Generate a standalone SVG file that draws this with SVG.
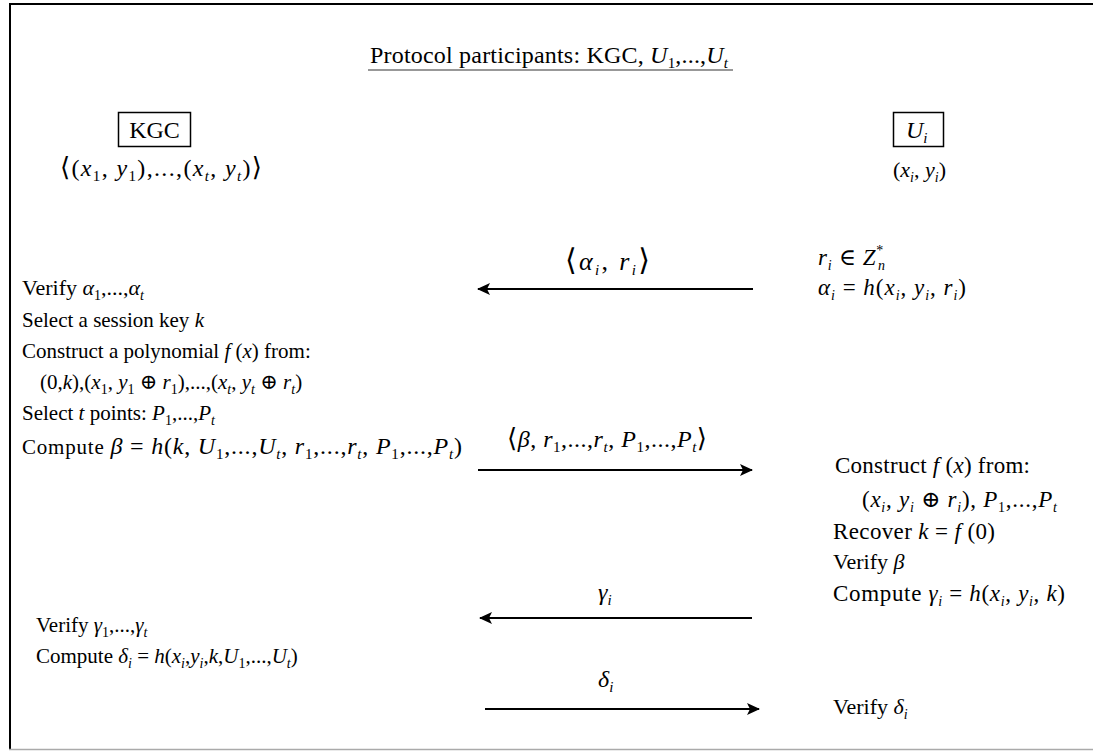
<svg xmlns="http://www.w3.org/2000/svg" width="1094" height="751" viewBox="0 0 1094 751">
<style>
text{font-family:"Liberation Serif","DejaVu Serif",serif;font-size:21px;fill:#000}
.i{font-style:italic}
.s{font-size:14px}
.s2{font-size:15px}
.b{font-size:26px}
.bb{font-size:30px}
.m{font-size:22px}
.r{font-size:23px}
.mm{font-size:24px}
.lb{font-size:26px}
.ttl{font-size:24px}
.big{font-size:24px}
.ln{stroke:#000;stroke-width:2;fill:none}
</style>
<defs>
<marker id="ah" viewBox="0 0 13 12" refX="12" refY="6" markerWidth="13" markerHeight="12" markerUnits="userSpaceOnUse" orient="auto">
<path d="M0,0 L13,6 L0,12 L3,6 z" fill="#000"/>
</marker>
</defs>
<rect width="1094" height="751" fill="#fff"/>
<g id="frame">
<line x1="9" y1="4" x2="1093" y2="4" stroke="#000" stroke-width="2"/>
<line x1="10" y1="3" x2="10" y2="750" stroke="#000" stroke-width="2"/>
<line x1="9" y1="749.5" x2="1093" y2="749.5" stroke="#aaa" stroke-width="1.5"/>
</g>
<g id="title">
<text class="ttl" x="370" y="63" textLength="358" lengthAdjust="spacing">Protocol participants: KGC, <tspan class="i">U</tspan><tspan class="s2" dy="5">1</tspan><tspan dy="-5">,...,</tspan><tspan class="i">U</tspan><tspan class="s2 i" dy="5">t</tspan></text>
<line x1="368" y1="70" x2="733" y2="70" stroke="#333" stroke-width="1.2"/>
</g>
<g id="kgc">
<rect x="118.5" y="112.5" width="72" height="34" fill="none" stroke="#000" stroke-width="1.5"/>
<text class="big" x="154.5" y="138" text-anchor="middle">KGC</text>
<text class="mm" x="60" y="176" textLength="202" lengthAdjust="spacing"><tspan class="b">⟨</tspan>(<tspan class="i">x</tspan><tspan class="s2" dy="5">1</tspan><tspan dy="-5">, </tspan><tspan class="i">y</tspan><tspan class="s2" dy="5">1</tspan><tspan dy="-5">),...,(</tspan><tspan class="i">x</tspan><tspan class="s2 i" dy="5">t</tspan><tspan dy="-5">, </tspan><tspan class="i">y</tspan><tspan class="s2 i" dy="5">t</tspan><tspan dy="-5">)</tspan><tspan class="b">⟩</tspan></text>
</g>
<g id="user">
<rect x="893.5" y="112.5" width="50" height="34" fill="none" stroke="#000" stroke-width="1.5"/>
<text class="big" x="906" y="138"><tspan class="i">U</tspan><tspan class="s2 i" dy="5">i</tspan></text>
<text class="m" x="893" y="177" textLength="53" lengthAdjust="spacing">(<tspan class="i">x</tspan><tspan class="s i" dy="5">i</tspan><tspan dy="-5">, </tspan><tspan class="i">y</tspan><tspan class="s i" dy="5">i</tspan><tspan dy="-5">)</tspan></text>
</g>
<g id="kgc-steps">
<text class="m" x="22" y="295">Verify <tspan class="i">α</tspan><tspan class="s" dy="5">1</tspan><tspan dy="-5">,...,</tspan><tspan class="i">α</tspan><tspan class="s i" dy="5">t</tspan></text>
<text x="22" y="327">Select a session key <tspan class="i">k</tspan></text>
<text x="22" y="358">Construct a polynomial <tspan class="i">f</tspan> (<tspan class="i">x</tspan>) from:</text>
<text x="40" y="389">(0,<tspan class="i">k</tspan>),(<tspan class="i">x</tspan><tspan class="s" dy="5">1</tspan><tspan dy="-5">, </tspan><tspan class="i">y</tspan><tspan class="s" dy="5">1</tspan><tspan dy="-5"> ⊕ </tspan><tspan class="i">r</tspan><tspan class="s" dy="5">1</tspan><tspan dy="-5">),...,(</tspan><tspan class="i">x</tspan><tspan class="s i" dy="5">t</tspan><tspan dy="-5">, </tspan><tspan class="i">y</tspan><tspan class="s i" dy="5">t</tspan><tspan dy="-5"> ⊕ </tspan><tspan class="i">r</tspan><tspan class="s i" dy="5">t</tspan><tspan dy="-5">)</tspan></text>
<text x="22" y="420">Select <tspan class="i">t</tspan> points: <tspan class="i">P</tspan><tspan class="s" dy="5">1</tspan><tspan dy="-5">,...,</tspan><tspan class="i">P</tspan><tspan class="s i" dy="5">t</tspan></text>
<text x="22" y="454" textLength="440" lengthAdjust="spacing">Compute <tspan class="mm i">β</tspan><tspan class="mm"> = </tspan><tspan class="mm i">h</tspan><tspan class="mm">(</tspan><tspan class="mm i">k</tspan><tspan class="mm">, </tspan><tspan class="mm i">U</tspan><tspan class="s2" dy="5">1</tspan><tspan class="mm" dy="-5">,...,</tspan><tspan class="mm i">U</tspan><tspan class="s2 i" dy="5">t</tspan><tspan class="mm" dy="-5">, </tspan><tspan class="mm i">r</tspan><tspan class="s2" dy="5">1</tspan><tspan class="mm" dy="-5">,...,</tspan><tspan class="mm i">r</tspan><tspan class="s2 i" dy="5">t</tspan><tspan class="mm" dy="-5">, </tspan><tspan class="mm i">P</tspan><tspan class="s2" dy="5">1</tspan><tspan class="mm" dy="-5">,...,</tspan><tspan class="mm i">P</tspan><tspan class="s2 i" dy="5">t</tspan><tspan class="mm" dy="-5">)</tspan></text>
<text x="36" y="632">Verify <tspan class="i">γ</tspan><tspan class="s" dy="5">1</tspan><tspan dy="-5">,...,</tspan><tspan class="i">γ</tspan><tspan class="s i" dy="5">t</tspan></text>
<text x="36" y="663">Compute <tspan class="i">δ</tspan><tspan class="s i" dy="5">i</tspan><tspan dy="-5"> = </tspan><tspan class="i">h</tspan>(<tspan class="i">x</tspan><tspan class="s i" dy="5">i</tspan><tspan dy="-5">,</tspan><tspan class="i">y</tspan><tspan class="s i" dy="5">i</tspan><tspan dy="-5">,</tspan><tspan class="i">k</tspan>,<tspan class="i">U</tspan><tspan class="s" dy="5">1</tspan><tspan dy="-5">,...,</tspan><tspan class="i">U</tspan><tspan class="s i" dy="5">t</tspan><tspan dy="-5">)</tspan></text>
</g>
<g id="user-steps">
<text class="r" x="818" y="265" textLength="67" lengthAdjust="spacing"><tspan class="i">r</tspan><tspan class="s i" dy="5">i</tspan><tspan dy="-5"> ∈ </tspan><tspan class="i">Z</tspan><tspan class="s" dy="-10">*</tspan><tspan class="s i" dx="-6" dy="15">n</tspan></text>
<text class="r" x="818" y="295" textLength="148" lengthAdjust="spacing"><tspan class="i">α</tspan><tspan class="s i" dy="5">i</tspan><tspan dy="-5"> = </tspan><tspan class="i">h</tspan>(<tspan class="i">x</tspan><tspan class="s i" dy="5">i</tspan><tspan dy="-5">, </tspan><tspan class="i">y</tspan><tspan class="s i" dy="5">i</tspan><tspan dy="-5">, </tspan><tspan class="i">r</tspan><tspan class="s i" dy="5">i</tspan><tspan dy="-5">)</tspan></text>
<text class="r" x="835" y="473" textLength="195" lengthAdjust="spacing">Construct <tspan class="i">f</tspan> (<tspan class="i">x</tspan>) from:</text>
<text class="r" x="862" y="507" textLength="195" lengthAdjust="spacing">(<tspan class="i">x</tspan><tspan class="s i" dy="5">i</tspan><tspan dy="-5">, </tspan><tspan class="i">y</tspan><tspan class="s i" dy="5">i</tspan><tspan dy="-5"> ⊕ </tspan><tspan class="i">r</tspan><tspan class="s i" dy="5">i</tspan><tspan dy="-5">), </tspan><tspan class="i">P</tspan><tspan class="s" dy="5">1</tspan><tspan dy="-5">,...,</tspan><tspan class="i">P</tspan><tspan class="s i" dy="5">t</tspan></text>
<text class="r" x="833" y="539" textLength="162" lengthAdjust="spacing">Recover <tspan class="i">k</tspan> = <tspan class="i">f</tspan> (0)</text>
<text class="m" x="833" y="569">Verify <tspan class="i">β</tspan></text>
<text class="r" x="833" y="601" textLength="232" lengthAdjust="spacing">Compute <tspan class="i">γ</tspan><tspan class="s i" dy="5">i</tspan><tspan dy="-5"> = </tspan><tspan class="i">h</tspan>(<tspan class="i">x</tspan><tspan class="s i" dy="5">i</tspan><tspan dy="-5">, </tspan><tspan class="i">y</tspan><tspan class="s i" dy="5">i</tspan><tspan dy="-5">, </tspan><tspan class="i">k</tspan>)</text>
<text class="m" x="833" y="714">Verify <tspan class="i">δ</tspan><tspan class="s i" dy="5">i</tspan></text>
</g>
<g id="connectors">
<line class="ln" x1="753" y1="289" x2="478" y2="289" marker-end="url(#ah)"/>
<line class="ln" x1="478" y1="470" x2="752" y2="470" marker-end="url(#ah)"/>
<line class="ln" x1="752" y1="618" x2="480" y2="618" marker-end="url(#ah)"/>
<line class="ln" x1="485" y1="709" x2="759" y2="709" marker-end="url(#ah)"/>
<text class="lb" x="565" y="270" textLength="85" lengthAdjust="spacing"><tspan class="bb">⟨</tspan><tspan class="i">α</tspan><tspan class="s2 i" dy="5">i</tspan><tspan dy="-5">, </tspan><tspan class="i">r</tspan><tspan class="s2 i" dy="5">i</tspan><tspan dy="-5" class="bb">⟩</tspan></text>
<text class="mm" x="507" y="447" textLength="200" lengthAdjust="spacing"><tspan class="b">⟨</tspan><tspan class="i">β</tspan>, <tspan class="i">r</tspan><tspan class="s2" dy="5">1</tspan><tspan dy="-5">,...,</tspan><tspan class="i">r</tspan><tspan class="s2 i" dy="5">t</tspan><tspan dy="-5">, </tspan><tspan class="i">P</tspan><tspan class="s2" dy="5">1</tspan><tspan dy="-5">,...,</tspan><tspan class="i">P</tspan><tspan class="s2 i" dy="5">t</tspan><tspan dy="-5" class="b">⟩</tspan></text>
<text class="mm" x="598" y="600"><tspan class="i">γ</tspan><tspan class="s2 i" dy="5">i</tspan></text>
<text class="mm" x="598" y="687"><tspan class="i">δ</tspan><tspan class="s2 i" dy="5">i</tspan></text>
</g>
</svg>
